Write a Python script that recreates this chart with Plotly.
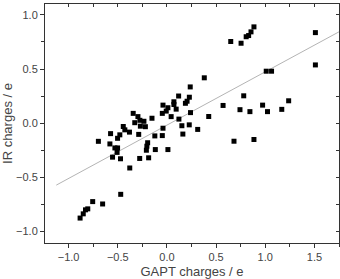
import plotly.graph_objects as go

gapt = [-0.883, -0.851, -0.828, -0.805, -0.755, -0.654, -0.470, -0.378,
        -0.697, -0.580, -0.553, -0.529, -0.502, -0.507, -0.472, -0.502,
        -0.573, -0.479, -0.444, -0.428, -0.381, -0.343, -0.327, -0.295,
        -0.275, -0.234, -0.270, -0.219, -0.287, -0.277, -0.196, -0.204,
        -0.209, -0.186, -0.118, 0.010, -0.152, -0.123, -0.047, -0.040,
        -0.040, 0.010, -0.007, -0.047, 0.043, 0.071, 0.071, 0.094,
        0.119, 0.188, 0.205, 0.228, 0.237, 0.240, 0.122, 0.152,
        0.227, 0.313, 0.162, 0.380, 0.425, 0.571, 0.649, 0.754,
        0.806, 0.831, 0.855, 0.885, 0.781, 0.743, 0.844, 0.682,
        0.885, 0.973, 1.010, 1.064, 1.023, 1.168, 1.238, 1.510, 1.510]
ir = [-0.875, -0.836, -0.799, -0.790, -0.723, -0.745, -0.656, -0.413,
      -0.167, -0.191, -0.313, -0.228, -0.228, -0.269, -0.328, -0.139,
      -0.096, -0.107, -0.030, -0.061, -0.082, 0.091, 0.005, 0.061,
      0.027, 0.018, -0.027, -0.032, -0.103, -0.325, -0.180, -0.212,
      -0.249, -0.319, -0.243, -0.243, 0.046, -0.117, -0.114, -0.046,
      0.167, 0.143, 0.112, 0.091, 0.061, 0.198, 0.173, 0.130,
      0.251, 0.184, 0.203, 0.240, 0.335, 0.098, 0.038, -0.023,
      -0.015, -0.057, -0.100, 0.419, 0.062, 0.164, 0.754, 0.738,
      0.798, 0.809, 0.843, 0.889, 0.253, 0.125, 0.107, -0.166,
      -0.150, 0.167, 0.480, 0.480, 0.107, 0.128, 0.207, 0.836, 0.538]

fit_x = [-1.125, 1.80]
fit_y = [-0.571, 0.868]

x_range = [-1.24, 1.75]
y_range = [-1.105, 1.1]
tick_vals = [-1.0, -0.5, 0.0, 0.5, 1.0, 1.5]
tick_text = ["\u22121.0", "\u22120.5", "0.0", "0.5", "1.0", "1.5"]
ytick_vals = [-1.0, -0.5, 0.0, 0.5, 1.0]
ytick_text = ["\u22121.0", "\u22120.5", "0.0", "0.5", "1.0"]

fig = go.Figure()
fig.add_trace(go.Scatter(x=fit_x, y=fit_y, mode="lines",
                         line=dict(color="#b4b4b4", width=1), showlegend=False))
fig.add_trace(go.Scatter(x=gapt, y=ir, mode="markers",
                         marker=dict(symbol="square", size=5, color="black"),
                         showlegend=False))

font = dict(family="Liberation Sans, Arial, sans-serif", size=11, color="#444")

fig.update_layout(
    width=340, height=279,
    margin=dict(l=43, r=1, t=4, b=33),
    paper_bgcolor="white", plot_bgcolor="white",
    font=font,
    xaxis=dict(range=x_range, tickvals=tick_vals, ticktext=tick_text,
               ticks="outside", ticklen=4, tickcolor="#333", tickwidth=1,
               minor=dict(dtick=0.25, ticks="outside", ticklen=3, tickcolor="#333"),
               showline=True, linecolor="#333", linewidth=1,
               showgrid=False, zeroline=False,
               title=dict(text="GAPT charges / e", standoff=6)),
    yaxis=dict(range=y_range, tickvals=ytick_vals, ticktext=ytick_text,
               ticks="outside", ticklen=4, tickcolor="#333", tickwidth=1,
               minor=dict(dtick=0.25, ticks="outside", ticklen=3, tickcolor="#333"),
               showline=True, linecolor="#333", linewidth=1,
               showgrid=False, zeroline=False,
               title=dict(text="IR charges / e", standoff=6)),
    xaxis2=dict(range=x_range, overlaying="x", side="top", matches="x",
                tickvals=tick_vals, showticklabels=False,
                ticks="inside", ticklen=3, tickcolor="#333",
                minor=dict(dtick=0.25, ticks="inside", ticklen=3, tickcolor="#333"),
                showline=True, linecolor="#333", linewidth=1,
                showgrid=False, zeroline=False),
    yaxis2=dict(range=y_range, overlaying="y", side="right", matches="y",
                tickvals=ytick_vals, showticklabels=False,
                ticks="inside", ticklen=3, tickcolor="#333",
                minor=dict(dtick=0.25, ticks="inside", ticklen=3, tickcolor="#333"),
                showline=True, linecolor="#333", linewidth=1,
                showgrid=False, zeroline=False),
)
fig.add_trace(go.Scatter(x=[None], y=[None], xaxis="x2", yaxis="y2",
                         showlegend=False, hoverinfo="skip"))

fig.write_html("out.html")
